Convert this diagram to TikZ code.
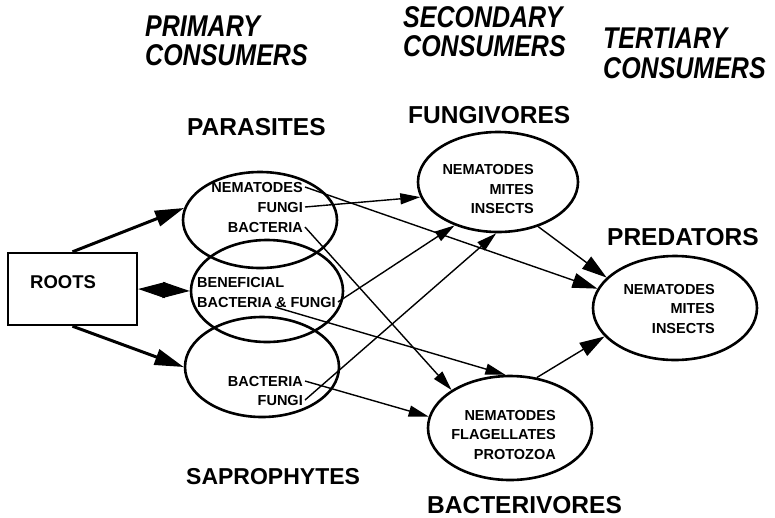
\documentclass[tikz,border=0pt]{standalone}
\usepackage{fontspec}
\setmainfont{Liberation Sans}
\usetikzlibrary{arrows.meta,shapes.geometric}

\newcommand{\tall}[1]{\scalebox{1}[1.2]{#1}}

\tikzset{
  group/.style={draw, ellipse, line width=2.6pt, inner sep=0pt},
  item/.style={font=\fontsize{14.5}{17}\selectfont\bfseries, inner sep=2pt},
  title/.style={font=\fontsize{24.5}{28}\selectfont\bfseries, inner sep=0pt, anchor=base west},
  level/.style={font=\fontsize{25}{28}\selectfont\bfseries\itshape, inner sep=0pt, anchor=base west},
  feed/.style={line width=1.4pt, -{Triangle[length=20pt,width=11pt]}},
  bigfeed/.style={line width=1.4pt, -{Triangle[length=25pt,width=15pt]}},
  rootfeed/.style={line width=3pt, -{Triangle[length=29pt,width=16pt]}},
  swap/.style={line width=1pt, {Triangle[length=27pt,width=16pt]}-{Triangle[length=27pt,width=16pt]}}
}

\begin{document}
\begin{tikzpicture}[x=1pt,y=-1pt]
                \useasboundingbox (0,0) rectangle (775,517);
                % headings
                \node[level] (prim1) at (145,36) {\tall{PRIMARY}};
                \node[level] (prim2) at (145,65) {\tall{CONSUMERS}};
                \node[level] (sec1) at (403,27) {\tall{SECONDARY}};
                \node[level] (sec2) at (403,56) {\tall{CONSUMERS}};
                \node[level] (ter1) at (603,48) {\tall{TERTIARY}};
                \node[level] (ter2) at (603,78) {\tall{CONSUMERS}};
                \node[title] (paraT) at (187,135) {PARASITES};
                \node[title] (fungT) at (408,123) {FUNGIVORES};
                \node[title] (predT) at (607,245) {PREDATORS};
                \node[title, font=\fontsize{23}{26}\selectfont\bfseries] (saprT) at (186,484) {SAPROPHYTES};
                \node[title] (bactT) at (427,513) {BACTERIVORES};
                % roots
                \node[draw, line width=2.4pt, minimum width=129pt, minimum height=72pt] (roots) at (72.5,289) {};
                \node[item, anchor=base west, font=\fontsize{18.5}{21}\selectfont\bfseries] (rootsT) at (28,288) {ROOTS};
                % groups
                \node[group, minimum width=154pt, minimum height=96pt] (para) at (260,220) {};
                \node[group, minimum width=152pt, minimum height=102pt] (bene) at (267,291) {};
                \node[group, minimum width=154pt, minimum height=100pt] (sapr) at (262,367) {};
                \node[group, minimum width=160pt, minimum height=100pt] (fung) at (498,182) {};
                \node[group, minimum width=164pt, minimum height=104pt] (bact) at (510,428) {};
                \node[group, minimum width=164pt, minimum height=104pt] (pred) at (675,308) {};
                % members
                \node[item, anchor=base east] (paraNem) at (305,192) {NEMATODES};
                \node[item, anchor=base east] (paraFun) at (305,212) {FUNGI};
                \node[item, anchor=base east] (paraBac) at (305,232) {BACTERIA};
                \node[item, anchor=base west] (beneB) at (195,287) {BENEFICIAL};
                \node[item, anchor=base west] (beneBF) at (195,307) {BACTERIA \& FUNGI};
                \node[item, anchor=base east] (saprBac) at (305,386) {BACTERIA};
                \node[item, anchor=base east] (saprFun) at (305,405) {FUNGI};
                \node[item, anchor=base east] (fungNem) at (536,174) {NEMATODES};
                \node[item, anchor=base east] (fungMit) at (536,194) {MITES};
                \node[item, anchor=base east] (fungIns) at (536,213) {INSECTS};
                \node[item, anchor=base east] (bactNem) at (558,420) {NEMATODES};
                \node[item, anchor=base east] (bactFla) at (558,439) {FLAGELLATES};
                \node[item, anchor=base east] (bactPro) at (558,459) {PROTOZOA};
                \node[item, anchor=base east] (predNem) at (717,294) {NEMATODES};
                \node[item, anchor=base east] (predMit) at (717,313) {MITES};
                \node[item, anchor=base east] (predIns) at (717,333) {INSECTS};
                % links
                \draw[rootfeed] (roots.north) -- (para.171);
                \draw[rootfeed] (roots.south) -- (sapr.west);
                \draw[swap] (roots.east) -- (bene.west);
                \draw[bigfeed] (paraNem.east) -- (pred.166);
                \draw[feed] (paraFun.east) -- (fung.191);
                \draw[feed] (paraBac.east) -- (bact.147);
                \draw[feed] (beneBF.east) -- (fung.225);
                \draw[feed] ([xshift=80pt]beneBF.base west) -- (bact.95);
                \draw[feed] (saprFun.east) -- (fung.268);
                \draw[feed] (saprBac.east) -- (bact.172);
                \draw[bigfeed] (fung.312) -- (pred.156);
                \draw[bigfeed] (bact.62) -- (pred.202);
            \end{tikzpicture}
\end{document}
